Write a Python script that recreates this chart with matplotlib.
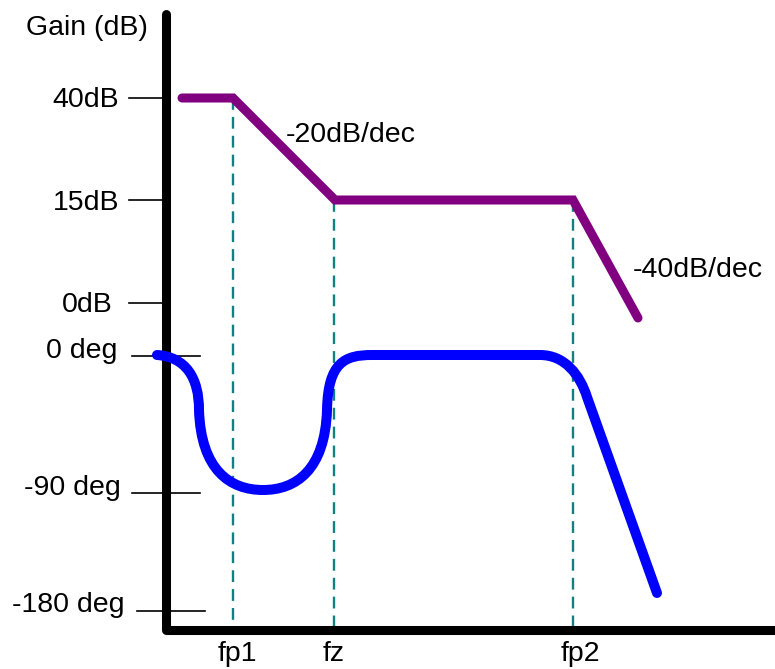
import matplotlib
matplotlib.use("Agg")
import matplotlib.pyplot as plt
from matplotlib.path import Path
from matplotlib.patches import PathPatch

plt.rcParams['font.family'] = ['Liberation Sans', 'DejaVu Sans']

# Diagram coordinates (schematic, pixel-like units; y grows downward)
# Gain asymptote corners
gain_x = [182, 233, 335, 573, 638]
gain_y = [98, 98, 200, 200, 318]

# Phase curve: anchors and Bezier control points
phase_vertices = [
    (157, 355),
    (186, 357), (199, 378), (199, 410),
    (201, 470), (230, 490), (263, 490),
    (296, 490), (325, 470), (327, 410),
    (328, 362), (345, 355), (372, 355),
    (540, 355),
    (565, 355), (580, 375), (587, 397),
    (657, 593),
]
phase_codes = ([Path.MOVETO] + [Path.CURVE4] * 12 + [Path.LINETO]
               + [Path.CURVE4] * 3 + [Path.LINETO])

# Corner frequencies
freq_labels = ['fp1', 'fz', 'fp2']
freq_x = [233, 334, 573]
freq_top = [98, 200, 200]

# Gain axis labels
gain_labels = ['40dB', '15dB', '0dB']
gain_tick_y = [98, 200, 303]

# Phase axis labels
phase_labels = ['0 deg', '-90 deg', '-180 deg']
phase_tick_y = [356, 493, 611]

fig = plt.figure(figsize=(7.75, 6.69), dpi=100)
ax = fig.add_axes([0, 0, 1, 1])
ax.set_xlim(0, 775)
ax.set_ylim(669, 0)
ax.axis('off')

fs = 20.5

# dashed frequency markers
for fx, ft in zip(freq_x, freq_top):
    ax.plot([fx, fx], [ft, 628], color='#138080', lw=1.7, dashes=(5, 3), zorder=1)

# gain ticks
for gy in gain_tick_y:
    ax.plot([129, 166], [gy, gy], color='black', lw=1.2, zorder=2)
# phase ticks
ax.plot([132, 200], [phase_tick_y[0], phase_tick_y[0]], color='black', lw=1.2, zorder=2)
ax.plot([132, 200], [phase_tick_y[1], phase_tick_y[1]], color='black', lw=1.2, zorder=2)
ax.plot([137, 205], [phase_tick_y[2], phase_tick_y[2]], color='black', lw=1.2, zorder=2)

# axes lines
ax.plot([166, 166, 775], [14, 630, 630], color='black', lw=6.5,
        solid_capstyle='round', solid_joinstyle='round', zorder=3)

# gain curve
ax.plot(gain_x, gain_y, color='#800080', lw=6.5, solid_capstyle='round',
        solid_joinstyle='miter', zorder=4)

# phase curve
phase_path = Path(phase_vertices, phase_codes)
ax.add_patch(PathPatch(phase_path, facecolor='none', edgecolor='#0000FF', lw=7.2,
                       capstyle='round', joinstyle='round', zorder=5))

# texts
ax.text(87, 35, 'Gain (dB)', fontsize=fs, ha='center', va='baseline')
gain_right = [119, 119, 113]
gain_base = [107, 210, 312]
for lab, r, b in zip(gain_labels, gain_right, gain_base):
    ax.text(r, b, lab, fontsize=fs, ha='right', va='baseline')
phase_right = [117, 121, 125]
phase_base = [358, 495, 612]
for lab, r, b in zip(phase_labels, phase_right, phase_base):
    ax.text(r, b, lab, fontsize=fs, ha='right', va='baseline')

label_cx = [237, 334, 580]
for lab, cx in zip(freq_labels, label_cx):
    ax.text(cx, 661, lab, fontsize=fs, ha='center', va='baseline')

ax.text(286, 142, '-20dB/dec', fontsize=fs, ha='left', va='baseline')
ax.text(633, 277, '-40dB/dec', fontsize=fs, ha='left', va='baseline')

fig.savefig('out.png', dpi=100)
